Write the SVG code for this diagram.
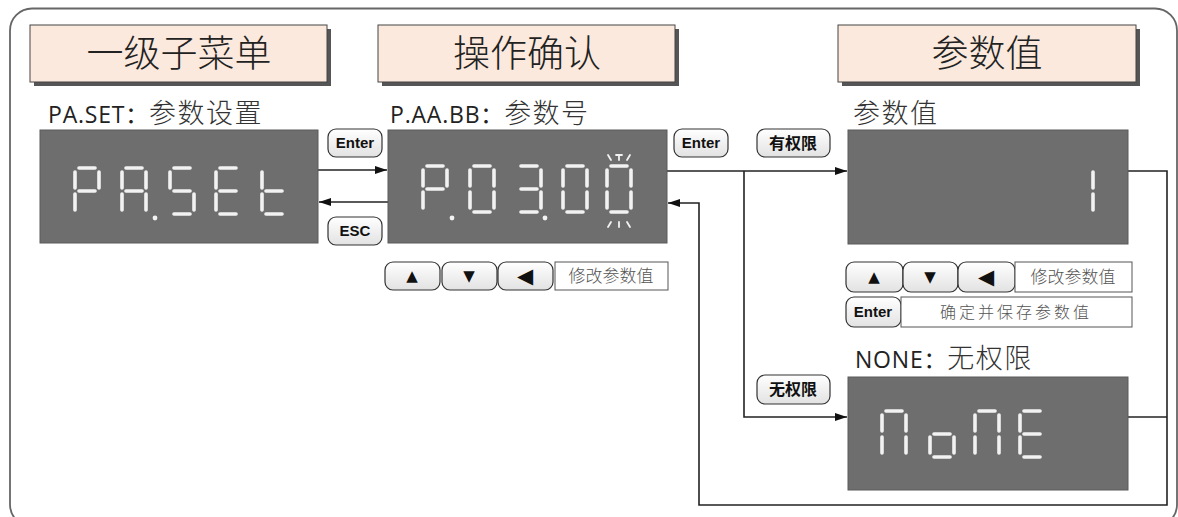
<svg xmlns="http://www.w3.org/2000/svg" width="1178" height="517" viewBox="0 0 1178 517">
<style>
.frame{fill:#fff;stroke:#666;stroke-width:1.8}
.hdr{fill:#fbe9dd;stroke:#444;stroke-width:1}
.shadow{fill:#555}
.hdrtxt{font-family:"Noto Sans CJK SC",sans-serif;font-size:37px;fill:#222;text-anchor:middle;font-weight:300}
.lbl{font-family:"Open Sans","Noto Sans CJK SC",sans-serif;font-size:23px;fill:#222;letter-spacing:0.8px}
.lblcn{font-family:"Noto Sans CJK SC",sans-serif;font-weight:300;fill:#333;font-size:27px;letter-spacing:1.5px}
.disp{fill:#6e6e6e;stroke:#5a5a5a;stroke-width:1}
.seg{stroke:#f2f2f2;stroke-width:3.6;stroke-linecap:round;fill:none}
.tick{stroke:#f2f2f2;stroke-width:1.8;stroke-linecap:round}
.btn{fill:url(#bg);stroke:#333;stroke-width:1.2}
.btntxt{font-family:"Liberation Sans Narrow","Liberation Sans",Arial,sans-serif;font-weight:bold;font-size:15px;fill:#111;text-anchor:middle}
.btncn{font-family:"Noto Sans CJK SC",sans-serif;font-weight:bold;font-size:16px;fill:#111;text-anchor:middle}
.sym{font-family:"DejaVu Sans",sans-serif;font-size:15px;fill:#111;text-anchor:middle}
.symL{font-family:"DejaVu Sans",sans-serif;font-size:21px;fill:#111;text-anchor:middle}
.tbox{fill:#fff;stroke:#555;stroke-width:1}
.tboxtxt{font-family:"Noto Sans CJK SC",sans-serif;font-size:17px;fill:#555;text-anchor:middle;font-weight:300}
.conn{fill:none;stroke:#222;stroke-width:1.6}
</style>
<defs>
<linearGradient id="bg" x1="0" y1="0" x2="0" y2="1">
<stop offset="0" stop-color="#ffffff"/>
<stop offset="1" stop-color="#e2e2e2"/>
</linearGradient>
<marker id="arr" viewBox="0 0 12 8" refX="12" refY="4" markerWidth="12" markerHeight="8" markerUnits="userSpaceOnUse" orient="auto">
<path d="M0,0 L12,4 L0,8 Z" fill="#111"/>
</marker>
<path id="sa" class="seg" d="M4,0 H20"/>
<path id="sb" class="seg" d="M24,4 V20"/>
<path id="sc" class="seg" d="M24,26 V42"/>
<path id="sd" class="seg" d="M4,46 H20"/>
<path id="se" class="seg" d="M0,26 V42"/>
<path id="sf" class="seg" d="M0,4 V20"/>
<path id="sg" class="seg" d="M4,23 H20"/>
</defs>

<rect class="frame" x="10" y="8.5" width="1167" height="518" rx="22"/>

<g id="header1">
<rect class="shadow" x="34" y="29" width="297" height="57"/>
<rect class="hdr" x="30" y="25" width="297" height="57"/>
<text class="hdrtxt" x="179" y="67">一级子菜单</text>
</g>
<g id="header2">
<rect class="shadow" x="382" y="29" width="297" height="57"/>
<rect class="hdr" x="378" y="25" width="297" height="57"/>
<text class="hdrtxt" x="527" y="67">操作确认</text>
</g>
<g id="header3">
<rect class="shadow" x="842" y="29" width="298" height="57"/>
<rect class="hdr" x="838" y="25" width="298" height="57"/>
<text class="hdrtxt" x="987" y="67">参数值</text>
</g>

<g id="connectors">
<path class="conn" d="M318,170 H387" marker-end="url(#arr)"/>
<path class="conn" d="M388,202 H319" marker-end="url(#arr)"/>
<path class="conn" d="M667,171 H847" marker-end="url(#arr)"/>
<path class="conn" d="M744,171 V417 H847" marker-end="url(#arr)"/>
<path class="conn" d="M1128,171 H1167 V505 H699 V203 H668" marker-end="url(#arr)"/>
<path class="conn" d="M1128,417 H1167"/>
</g>

<g id="node-paset">
<text class="lbl" x="48" y="123">PA.SET：<tspan class="lblcn">参数设置</tspan></text>
<rect class="disp" x="40" y="130" width="278" height="113"/>
<g transform="translate(75,168)"><use href="#sa"/><use href="#sb"/><use href="#se"/><use href="#sf"/><use href="#sg"/></g>
<g transform="translate(122,168)"><use href="#sa"/><use href="#sb"/><use href="#sc"/><use href="#se"/><use href="#sf"/><use href="#sg"/></g>
<circle cx="155" cy="218" r="2.4" fill="#f2f2f2"/>
<g transform="translate(170,168)"><use href="#sa"/><use href="#sf"/><use href="#sg"/><use href="#sc"/><use href="#sd"/></g>
<g transform="translate(216,168)"><use href="#sa"/><use href="#sf"/><use href="#sg"/><use href="#se"/><use href="#sd"/></g>
<g transform="translate(262,168)"><use href="#sf"/><use href="#sg"/><use href="#se"/><use href="#sd"/></g>
</g>

<g id="btn-enter1">
<rect class="btn" x="328" y="129" width="54" height="28" rx="8"/>
<text class="btntxt" x="355" y="148">Enter</text>
</g>
<g id="btn-esc">
<rect class="btn" x="328" y="217" width="54" height="28" rx="8"/>
<text class="btntxt" x="355" y="236">ESC</text>
</g>

<g id="node-param-no">
<text class="lbl" x="390" y="123">P.AA.BB：<tspan class="lblcn">参数号</tspan></text>
<rect class="disp" x="388" y="130" width="279" height="113"/>
<g transform="translate(423,166)"><use href="#sa"/><use href="#sb"/><use href="#se"/><use href="#sf"/><use href="#sg"/></g>
<circle cx="452" cy="218" r="2.4" fill="#f2f2f2"/>
<g transform="translate(470,166)"><use href="#sa"/><use href="#sb"/><use href="#sc"/><use href="#sd"/><use href="#se"/><use href="#sf"/></g>
<g transform="translate(517,166)"><use href="#sa"/><use href="#sb"/><use href="#sg"/><use href="#sc"/><use href="#sd"/></g>
<circle cx="545" cy="218" r="2.4" fill="#f2f2f2"/>
<g transform="translate(563,166)"><use href="#sa"/><use href="#sb"/><use href="#sc"/><use href="#sd"/><use href="#se"/><use href="#sf"/></g>
<g transform="translate(607,166)"><use href="#sa"/><use href="#sb"/><use href="#sc"/><use href="#sd"/><use href="#se"/><use href="#sf"/></g>
<line class="tick" x1="619" y1="155" x2="619" y2="160"/>
<line class="tick" x1="616" y1="155" x2="622" y2="155"/>
<line class="tick" x1="608" y1="155" x2="611" y2="160"/>
<line class="tick" x1="630" y1="155" x2="627" y2="160"/>
<line class="tick" x1="619" y1="222" x2="619" y2="227"/>
<line class="tick" x1="611" y1="222" x2="608" y2="227"/>
<line class="tick" x1="627" y1="222" x2="630" y2="227"/>
</g>

<g id="keys-param-no">
<rect class="btn" x="385" y="262" width="55" height="28" rx="8"/>
<text class="sym" x="412" y="281">▲</text>
<rect class="btn" x="442" y="262" width="55" height="28" rx="8"/>
<text class="sym" x="469" y="281">▼</text>
<rect class="btn" x="498" y="262" width="55" height="28" rx="8"/>
<text class="symL" x="525" y="283">◀</text>
<rect class="tbox" x="555" y="262" width="113" height="28"/>
<text class="tboxtxt" x="611" y="282">修改参数值</text>
</g>

<g id="btn-enter2">
<rect class="btn" x="674" y="129" width="54" height="28" rx="8"/>
<text class="btntxt" x="701" y="148">Enter</text>
</g>
<g id="btn-perm">
<rect class="btn" x="757" y="129" width="73" height="28" rx="8"/>
<text class="btncn" x="793" y="149">有权限</text>
</g>
<g id="btn-noperm">
<rect class="btn" x="757" y="375" width="73" height="29" rx="8"/>
<text class="btncn" x="793" y="395">无权限</text>
</g>

<g id="node-param-value">
<text class="lbl" x="853" y="123"><tspan class="lblcn">参数值</tspan></text>
<rect class="disp" x="848" y="130" width="280" height="114"/>
<g transform="translate(1069,168)"><use href="#sb"/><use href="#sc"/></g>
</g>

<g id="keys-param-value">
<rect class="btn" x="846" y="262" width="57" height="30" rx="8"/>
<text class="sym" x="874" y="282">▲</text>
<rect class="btn" x="903" y="262" width="55" height="30" rx="8"/>
<text class="sym" x="930" y="282">▼</text>
<rect class="btn" x="958" y="262" width="57" height="30" rx="8"/>
<text class="symL" x="986" y="284">◀</text>
<rect class="tbox" x="1015" y="262" width="117" height="30"/>
<text class="tboxtxt" x="1073" y="283">修改参数值</text>
<rect class="btn" x="846" y="297" width="55" height="30" rx="8"/>
<text class="btntxt" x="873" y="317">Enter</text>
<rect class="tbox" x="901" y="297" width="231" height="30"/>
<text class="tboxtxt" x="1016" y="318" style="font-size:16px;letter-spacing:3px">确定并保存参数值</text>
</g>

<g id="node-none">
<text class="lbl" x="855" y="368">NONE：<tspan class="lblcn">无权限</tspan></text>
<rect class="disp" x="848" y="377" width="280" height="113"/>
<g transform="translate(882,411)"><use href="#sa"/><use href="#sb"/><use href="#sc"/><use href="#se"/><use href="#sf"/></g>
<g transform="translate(930,411)"><use href="#sg"/><use href="#sc"/><use href="#sd"/><use href="#se"/></g>
<g transform="translate(975,411)"><use href="#sa"/><use href="#sb"/><use href="#sc"/><use href="#se"/><use href="#sf"/></g>
<g transform="translate(1020,411)"><use href="#sa"/><use href="#sf"/><use href="#sg"/><use href="#se"/><use href="#sd"/></g>
</g>
</svg>
